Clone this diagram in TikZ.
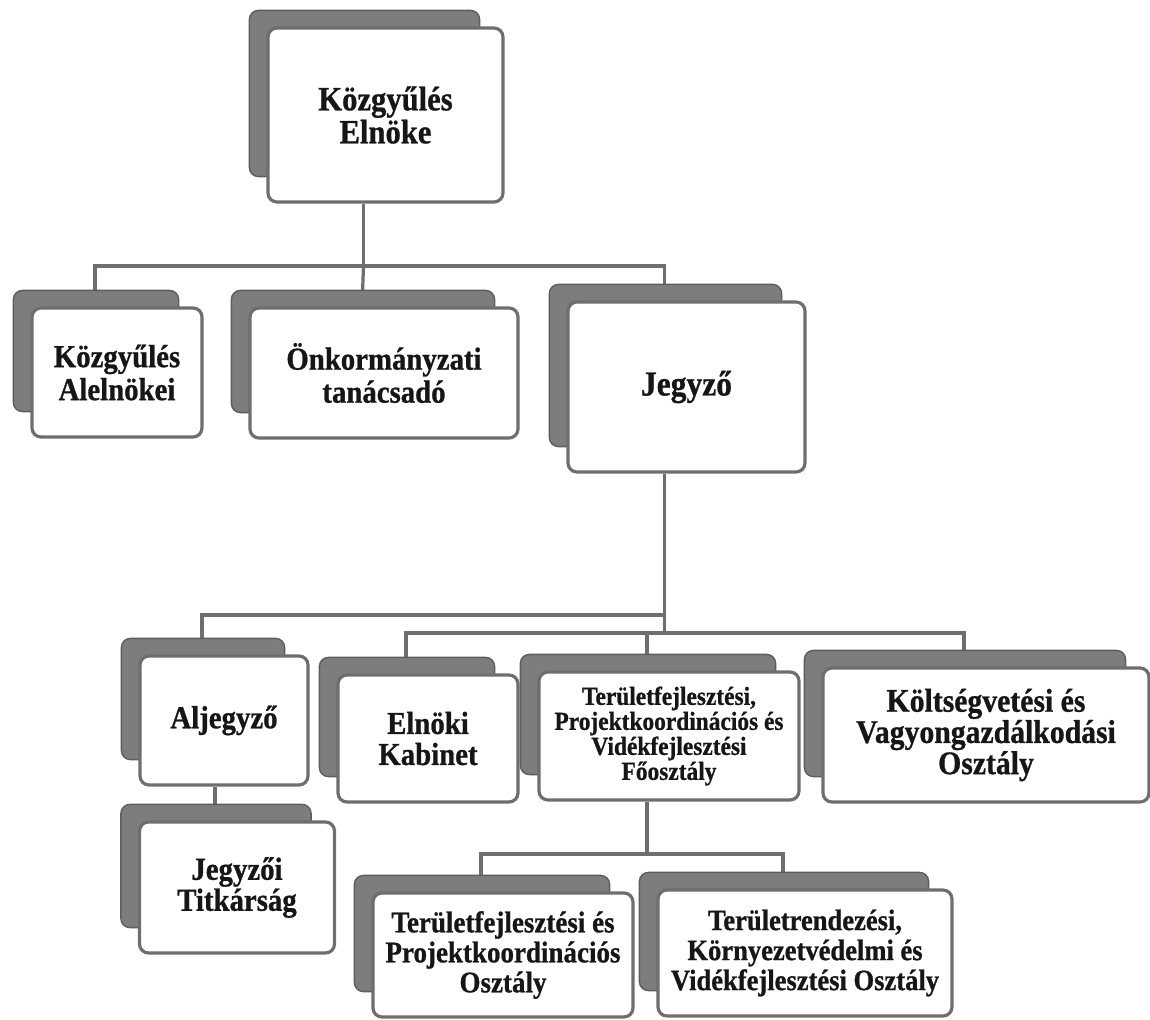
\documentclass[tikz,border=0pt]{standalone}
\usepackage{fontspec}
\setmainfont{Liberation Serif}[FakeStretch=0.9, FakeBold=0.8]
\usepackage{tikz}
\usetikzlibrary{backgrounds}
\definecolor{frame}{HTML}{6E6E6E}
\definecolor{shade}{HTML}{7D7D7D}
\definecolor{ink}{HTML}{161616}
\tikzset{
  unitbox/.style={
    rectangle, rounded corners=9pt, draw=frame, fill=white,
    line width=3.2pt, align=center, text=ink,
    inner sep=2pt
  },
  shadowbox/.style={
    rounded corners=9pt, draw=frame!85!black, fill=shade, line width=1.4pt
  },
  orgline/.style={
    draw=frame, line width=3.2pt, line join=miter
  },
  unittext/.style 2 args={
    font=\fontsize{#1}{#2}\selectfont\bfseries
  },
}
\begin{document}
\begin{tikzpicture}[x=1pt, y=-1pt]
\useasboundingbox (0,0) rectangle (1150,1019);

% head
\node[unitbox, minimum width=235, minimum height=174, unittext={34}{33}] (elnok) at (385.5,115) {Közgyűlés\\Elnöke};

% second level
\node[unitbox, minimum width=170, minimum height=129, unittext={32}{33}] (alelnok) at (117,372.5) {Közgyűlés\\Alelnökei};
\node[unitbox, minimum width=268, minimum height=130, unittext={32}{33}] (tanacs) at (384,373) {Önkormányzati\\tanácsadó};
\node[unitbox, minimum width=237, minimum height=170, unittext={35}{33}] (jegyzo) at (686.5,387) {Jegyző};

% under the Jegyző
\node[unitbox, minimum width=168, minimum height=129, unittext={32}{31}] (aljegyzo) at (224,720.5) {Aljegyző};
\node[unitbox, minimum width=195, minimum height=131, unittext={32}{31}] (titkar) at (237,887.5) {Jegyzői\\Titkárság};
\node[unitbox, minimum width=180, minimum height=127, unittext={32}{31}] (kabinet) at (428,738.5) {Elnöki\\Kabinet};
\node[unitbox, minimum width=260, minimum height=128, unittext={26}{25}] (foosztaly) at (669,736) {Területfejlesztési,\\Projektkoordinációs és\\Vidékfejlesztési\\Főosztály};
\node[unitbox, minimum width=326, minimum height=134, unittext={33}{30}] (koltseg) at (986,735) {Költségvetési és\\Vagyongazdálkodási\\Osztály};

% departments of the Főosztály
\node[unitbox, minimum width=260, minimum height=124, unittext={30}{30}] (tfejl) at (503,955) {Területfejlesztési és\\Projektkoordinációs\\Osztály};
\node[unitbox, minimum width=294, minimum height=126, unittext={29.5}{30}] (trend) at (805,953) {Területrendezési,\\Környezetvédelmi és\\Vidékfejlesztési Osztály};

\begin{scope}[on background layer]
  % connectors
  \coordinate (bus1) at (363.5,266);
  \coordinate (abus) at (664.5,615);
  \coordinate (jbus) at (664.5,633);
  \coordinate (fbus) at (647,854);
  \coordinate (tk) at ([xshift=-22]titkar.north);

  \draw[orgline] ([xshift=-22]elnok.south) -- (bus1);
  \draw[orgline] (bus1) -| ([xshift=-22]alelnok.north);
  \draw[orgline] (bus1) -- ([xshift=-22]tanacs.north);
  \draw[orgline] (bus1) -| ([xshift=-22]jegyzo.north);

  \draw[orgline] ([xshift=-22]jegyzo.south) -- (jbus);
  \draw[orgline] (abus) -| ([xshift=-22]aljegyzo.north);
  \draw[orgline] (jbus) -| ([xshift=-22]kabinet.north);
  \draw[orgline] (jbus) -| ([xshift=-22]foosztaly.north);
  \draw[orgline] (jbus) -| ([xshift=-22]koltseg.north);
  \draw[orgline] (tk) -- (tk |- aljegyzo.south);

  \draw[orgline] ([xshift=-22]foosztaly.south) -- (fbus);
  \draw[orgline] (fbus) -| ([xshift=-22]tfejl.north);
  \draw[orgline] (fbus) -| ([xshift=-22]trend.north);

  % back cards
  \foreach \u in {elnok,alelnok,tanacs,jegyzo,aljegyzo,titkar,kabinet,foosztaly,koltseg,tfejl,trend}
    \draw[shadowbox] ([shift={(-17,-16)}]\u.north west) rectangle ([shift={(-25,-27)}]\u.south east);
\end{scope}

\end{tikzpicture}
\end{document}
